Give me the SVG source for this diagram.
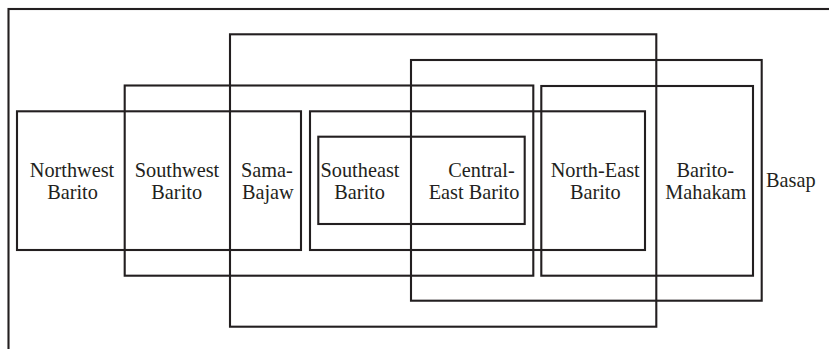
<svg xmlns="http://www.w3.org/2000/svg" width="829" height="349" viewBox="0 0 829 349">
<style>
.b{fill:none;stroke:#231f20;stroke-width:2.1}
.t{font-family:'Liberation Serif','Times New Roman',Times,'DejaVu Serif',serif;font-size:20.3px;fill:#231f20}
.m{text-anchor:middle}
</style>
<rect width="829" height="349" fill="#fff"/>
<g id="basap-frame"><rect class="b" x="8.5" y="9" width="840" height="360"/><text class="t" x="766" y="186.7">Basap</text></g>
<g id="big-a"><rect class="b" x="230" y="34.3" width="426.3" height="292.4"/></g>
<g id="big-b"><rect class="b" x="411" y="60" width="350.7" height="240.7"/></g>
<g id="big-c"><rect class="b" x="124.7" y="85.5" width="408.6" height="190.2"/></g>
<g id="group-d"><rect class="b" x="17" y="111.3" width="284" height="138.7"/></g>
<g id="group-e"><rect class="b" x="310" y="111.3" width="335" height="138.7"/></g>
<g id="group-f"><rect class="b" x="318.3" y="136.7" width="206.4" height="87.3"/></g>
<g id="group-g"><rect class="b" x="541.3" y="86" width="211.7" height="189.7"/></g>
<g id="labels">
<g id="northwest"><text class="t m" x="72" y="176.7">Northwest</text><text class="t m" x="72.5" y="199.3">Barito</text></g>
<g id="southwest"><text class="t m" x="177" y="176.7">Southwest</text><text class="t m" x="176.7" y="199.3">Barito</text></g>
<g id="sama"><text class="t" x="241" y="176.7">Sama-</text><text class="t m" x="267.8" y="199.3">Bajaw</text></g>
<g id="southeast"><text class="t m" x="360" y="176.7">Southeast</text><text class="t m" x="359.5" y="199.3">Barito</text></g>
<g id="central-east"><text class="t" x="448.3" y="176.7">Central-</text><text class="t m" x="474" y="199.3">East Barito</text></g>
<g id="north-east"><text class="t m" x="595.2" y="176.7">North-East</text><text class="t m" x="595.3" y="199.3">Barito</text></g>
<g id="barito-mahakam"><text class="t" x="676.5" y="176.7">Barito-</text><text class="t m" x="705.8" y="199.3">Mahakam</text></g>
</g>
</svg>
